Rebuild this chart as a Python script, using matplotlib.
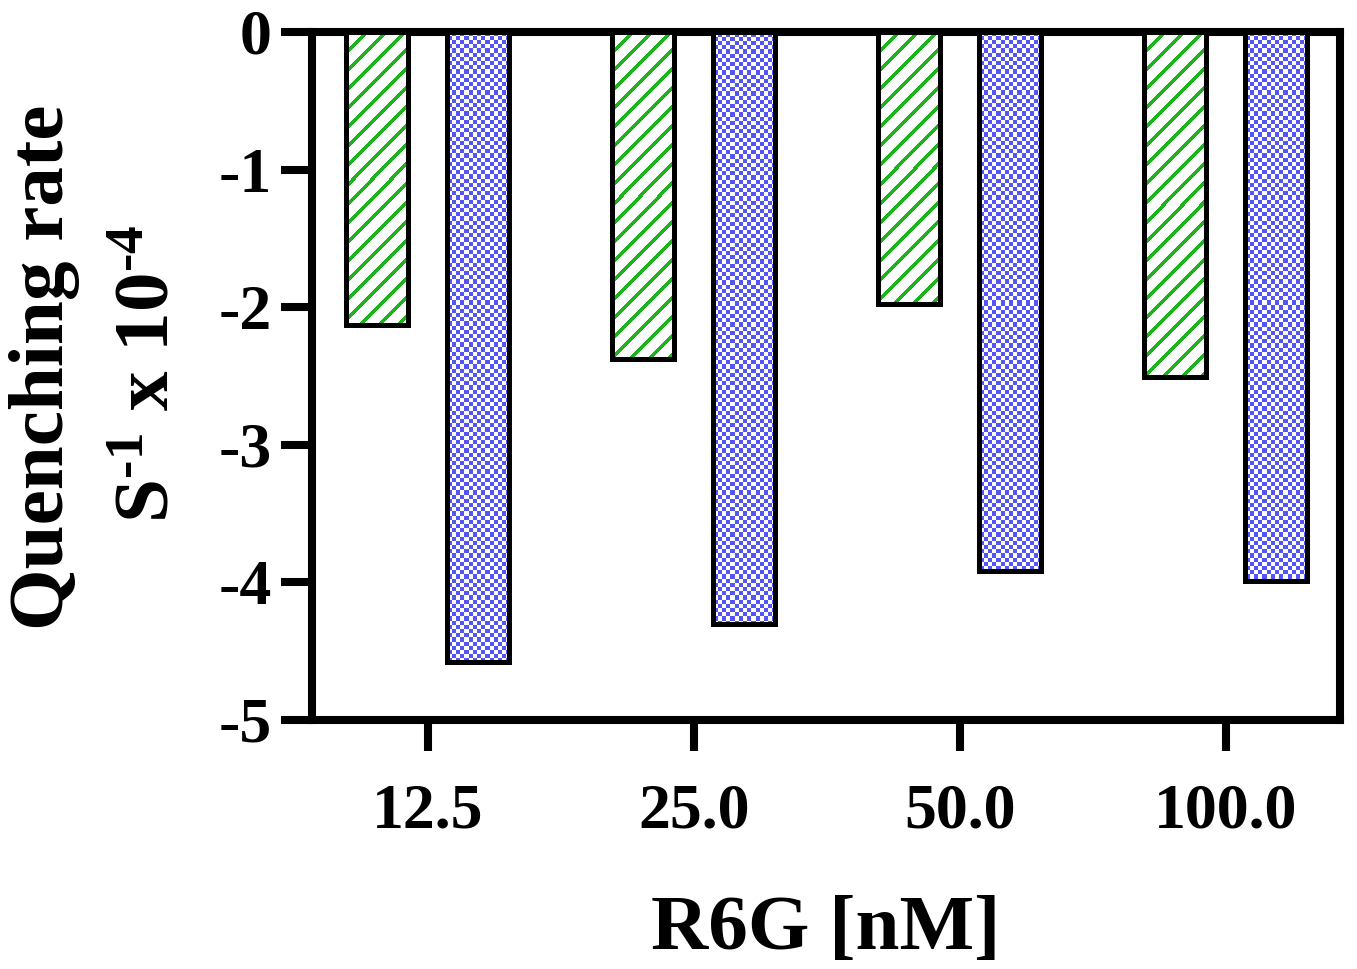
import numpy as np
import matplotlib
matplotlib.use('Agg')
import matplotlib.pyplot as plt
from matplotlib.colors import ListedColormap

# dados
concentracoes = ['12.5', '25.0', '50.0', '100.0']
taxa_verde = [-2.13, -2.38, -1.98, -2.51]
taxa_azul = [-4.58, -4.30, -3.92, -3.99]

verde = '#1db31d'
azul = '#5454f7'

plt.rcParams['font.family'] = ['Liberation Serif', 'DejaVu Serif']
plt.rcParams['font.weight'] = 'bold'
plt.rcParams['axes.unicode_minus'] = False
plt.rcParams['mathtext.fontset'] = 'custom'
plt.rcParams['mathtext.rm'] = 'Liberation Serif:bold'
plt.rcParams['mathtext.bf'] = 'Liberation Serif:bold'
plt.rcParams['mathtext.default'] = 'bf'

fig = plt.figure(figsize=(13.57, 9.69), dpi=100)
ax = fig.add_axes([312 / 1357, 1 - 720 / 969, (1340 - 312) / 1357, (720 - 32) / 969])

x = np.arange(len(concentracoes))
largura = 0.233
desloc = 0.19

ax.set_xlim(-0.436, 3.43)
ax.set_ylim(-5, 0)

barras_v = ax.bar(x - desloc, taxa_verde, largura, color='white', linewidth=0, zorder=2)
ax.bar(x - desloc, taxa_verde, largura, color='none', edgecolor='black',
       linewidth=3.6, zorder=4)
barras_a = ax.bar(x + desloc, taxa_azul, largura, color='white', linewidth=0, zorder=2)
ax.bar(x + desloc, taxa_azul, largura, color='none', edgecolor='black',
       linewidth=3.6, zorder=4)

fig.canvas.draw()


def preencher(barra, cor, tipo):
    # preenche a barra com um padrao (listras ou xadrez) recortado pela propria barra
    x0, y0 = barra.get_x(), barra.get_y()
    x1, y1 = x0 + barra.get_width(), y0 + barra.get_height()
    p0 = ax.transData.transform((x0, y0))
    p1 = ax.transData.transform((x1, y1))
    nx = max(1, int(round(abs(p1[0] - p0[0]))))
    ny = max(1, int(round(abs(p1[1] - p0[1]))))
    ii, jj = np.meshgrid(np.arange(ny), np.arange(nx), indexing='ij')
    if tipo == 'listra':
        grade = (((ii + jj) % 19) < 5).astype(float)
    else:
        grade = (((ii // 4.2).astype(int) + (jj // 4.2).astype(int)) % 2).astype(float)
    im = ax.imshow(grade, cmap=ListedColormap(['white', cor]), vmin=0, vmax=1,
                   extent=(x0, x1, min(y0, y1), max(y0, y1)),
                   interpolation='nearest', aspect='auto', origin='upper', zorder=3)
    im.set_clip_path(barra)


for b in barras_v:
    preencher(b, verde, 'listra')
for b in barras_a:
    preencher(b, azul, 'xadrez')

ax.set_xlim(-0.436, 3.43)
ax.set_ylim(-5, 0)

ax.set_xticks(x)
ax.set_xticklabels(concentracoes)
ax.set_yticks([0, -1, -2, -3, -4, -5])
ax.set_yticklabels(['0', '-1', '-2', '-3', '-4', '-5'])

for s in ax.spines.values():
    s.set_linewidth(5.8)
ax.tick_params(axis='both', length=22, width=5.8, labelsize=46)
ax.tick_params(axis='y', pad=7)
ax.tick_params(axis='x', pad=24)

ax.set_xlabel('R6G [nM]', fontsize=57, fontweight='bold', labelpad=38)

# rotulo do eixo y em duas linhas
fig.text(45 / 1357, 1 - 367 / 969, 'Quenching rate', rotation=90, fontsize=57,
         fontweight='bold', ha='center', va='center')
fig.text(150 / 1357, 1 - 374 / 969, r'S$^{\text{-1}}$ x 10$^{\text{-4}}$', rotation=90,
         fontsize=57, fontweight='bold', ha='center', va='center')

plt.savefig('out.png', dpi=100)
